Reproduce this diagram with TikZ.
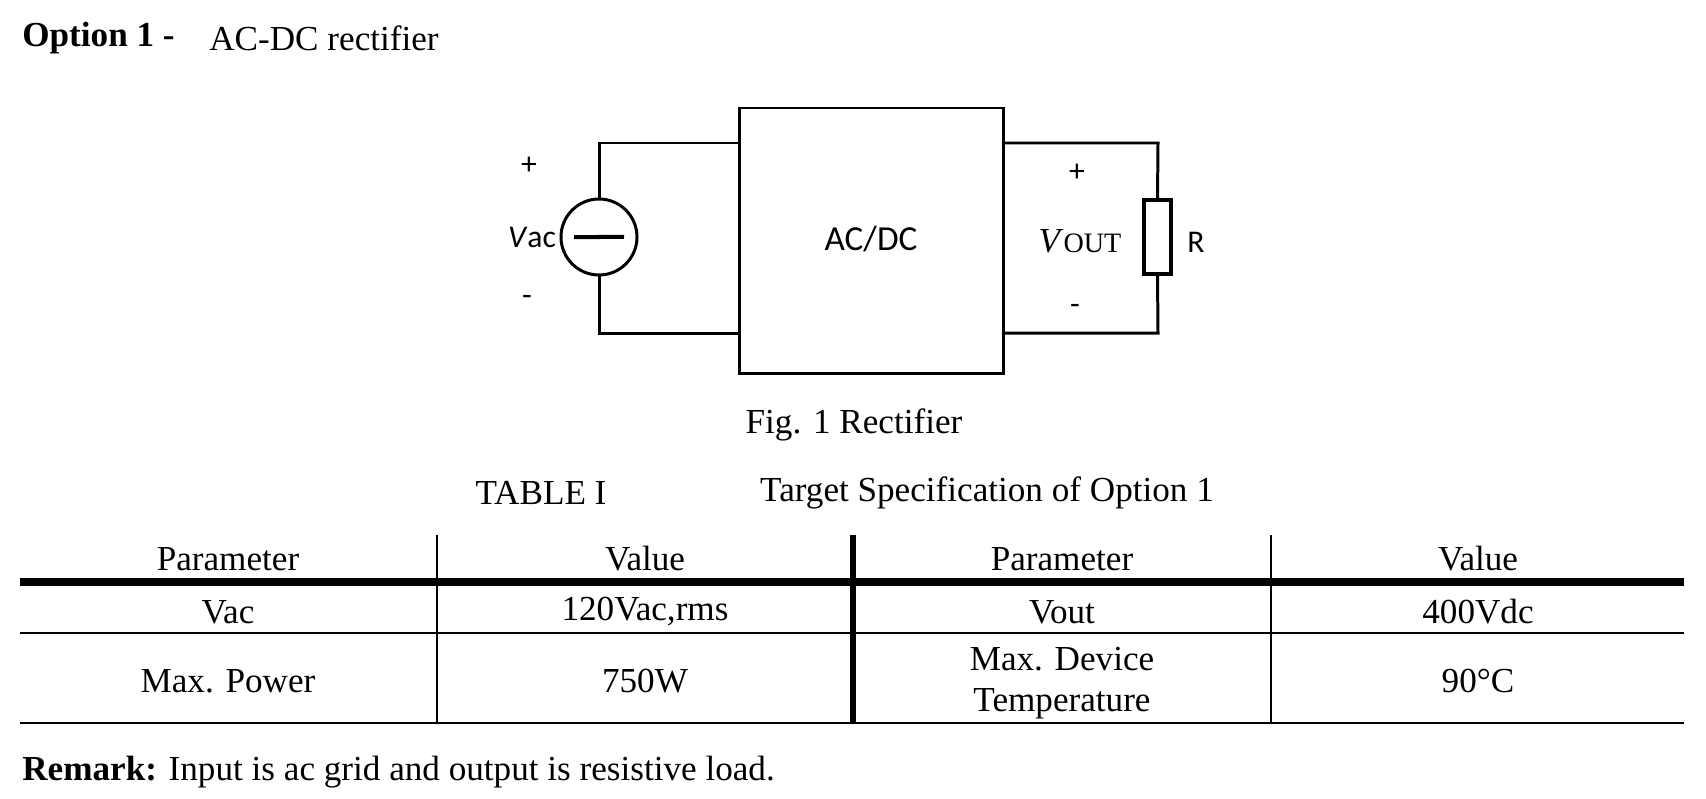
\documentclass[tikz,border=0pt]{standalone}
\usepackage{fontspec}
\setmainfont{Liberation Serif}
\newfontfamily\mysans{Carlito}
\begin{document}
\begin{tikzpicture}[x=0.02cm,y=-0.02cm,
  t/.style={inner sep=0pt,font=\fontsize{20}{22}\selectfont},
  s/.style={inner sep=0pt,font=\mysans\fontsize{18}{20}\selectfont},
  w/.style={line width=1.7pt}]
\useasboundingbox (0,0) rectangle (1706,798);
% title
\node[t,anchor=west] (ti) at (22,38) {\textbf{Option 1 -}};
\node[t,anchor=west] (ti2) at (209,38) {AC-DC rectifier};
% circuit
\node[draw,w,minimum width=264*0.02cm,minimum height=265*0.02cm,inner sep=0pt] (box) at (871,240.5) {};
\node[s,font=\mysans\fontsize{20}{22}\selectfont] (acdc) at (871,239) {AC/DC};
\node[draw,w,circle,minimum size=76*0.02cm,inner sep=0pt] (src) at (599,237) {};
\draw[line width=2.3pt] ([xshift=-0.5cm]src.center) .. controls +(0.15,0.45) and +(-0.2,0) .. (src.center) .. controls +(0.2,0) and +(-0.15,-0.45) .. ([xshift=0.5cm]src.center);
\coordinate (lt) at (599,143); \coordinate (lb) at (599,333);
\draw[w] (src.north) -- (lt) -- (box.west|-lt);
\draw[w] (src.south) -- (lb) -- (box.west|-lb);
\node[draw,line width=2.2pt,minimum width=27*0.02cm,minimum height=74*0.02cm,inner sep=0pt] (R) at (1157.5,237) {};
\coordinate (rt) at (1158,143); \coordinate (rb) at (1158,333);
\draw[w] (box.east|-rt) -- (rt) -- (R.north);
\draw[w] (box.east|-rb) -- (rb) -- (R.south);
\node[s] (p1) at (529,166) {+};
\node[s] (m1) at (527,300) {-};
\node[s] (vac) at (532,237) {\textit{V}ac};
\node[s] (p2) at (1077,173) {+};
\node[s] (m2) at (1075,309) {-};
\node[t] (vout) at (1080,241) {\textit{V}\fontsize{16}{18}\selectfont OUT};
\node[s] (rl) at (1196,242) {R};
\node[t] (fig) at (854,425) {Fig. 1 Rectifier};
\node[t] (tab) at (541,493) {TABLE I};
\node[t] (tab2) at (987,493) {Target Specification of Option 1};
% table
\draw[line width=0.8pt] (437,535) -- (437,723) (1271,535) -- (1271,723);
\draw[line width=3.5pt] (853,535) -- (853,723);
\draw[line width=4.5pt] (20,582) -- (1684,582);
\draw[line width=0.8pt] (20,633) -- (1684,633) (20,723) -- (1684,723);
\foreach \x/\a/\b/\c [count=\i] in {228/Parameter/Vac/Max. Power, 645/Value/{120Vac,rms}/750W, 1478/Value/400Vdc/90°C}
 { \node[t] (h\i) at (\x,559) {\a}; \node[t] (r\i) at (\x,612) {\b}; \node[t] (q\i) at (\x,681) {\c}; }
\node[t] (h4) at (1062,559) {Parameter};
\node[t] (r4) at (1062,612) {Vout};
\node[t] (q4) at (1062,659) {Max. Device};
\node[t] (q5) at (1062,704) {Temperature};
\node[t,anchor=west] (rem) at (22,772) {\textbf{Remark:} Input is ac grid and output is resistive load.};
\end{tikzpicture}
\end{document}
